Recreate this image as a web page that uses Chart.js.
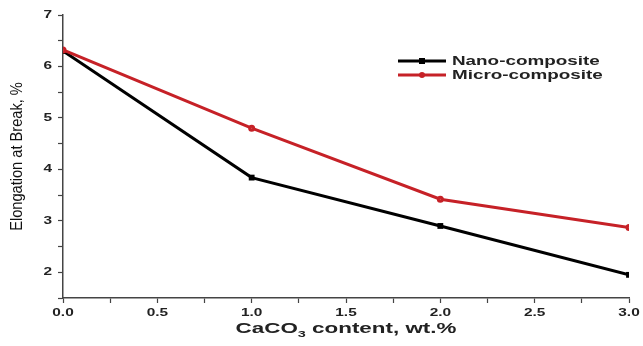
<!DOCTYPE html>
<html>
<head>
<meta charset="utf-8">
<script src="https://cdn.jsdelivr.net/npm/chart.js@4"></script>
<style>
  html, body { margin: 0; padding: 0; background: #fff; }
  #wrap { width: 643px; height: 346px; position: relative; }
</style>
</head>
<body>
<div id="wrap"><canvas id="chart"></canvas></div>
<script>
// CaCO3 content (wt.%)
const contents = [0, 1, 2, 3];
// Elongation at break (%)
const nanoValues = [6.3, 3.84, 2.9, 1.95];
const microValues = [6.32, 4.8, 3.42, 2.87];
const seriesNames = ["Nano-composite", "Micro-composite"];
const seriesColors = ["#000000", "#c62127"];

const xTitle = ["CaCO", "3", " content, wt.%"];
const yTitle = "Elongation at Break, %";

const axisColor = "#444";
const textColor = "#222";

function stretchText(ctx, text, x, y, sx, align) {
    ctx.save();
    ctx.translate(x, y);
    ctx.scale(sx, 1);
    ctx.textAlign = align;
    ctx.fillText(text, 0, 0);
    ctx.restore();
}

const textPlugin = {
    id: "textPlugin",
    afterDraw(chart) {
        const ctx = chart.ctx;
        const xs = chart.scales.x;
        const ys = chart.scales.y;
        ctx.save();
        ctx.fillStyle = textColor;

        // tick labels
        ctx.font = "bold 11px 'Liberation Sans', Arial, sans-serif";
        ctx.textBaseline = "middle";
        xs.ticks.forEach((t) => {
            if (Math.abs(t.value * 2 - Math.round(t.value * 2)) > 1e-6) return;
            stretchText(ctx, t.value.toFixed(1), xs.getPixelForValue(t.value), xs.top + 15, 1.4, "center");
        });
        ys.ticks.forEach((t) => {
            if (Math.abs(t.value - Math.round(t.value)) > 1e-6) return;
            if (t.value < 2) return;
            stretchText(ctx, String(t.value), ys.right - 11, ys.getPixelForValue(t.value), 1.4, "right");
        });

        // x title with subscript
        const sx = 1.6;
        ctx.font = "bold 14px 'Liberation Sans', Arial, sans-serif";
        const w1 = ctx.measureText(xTitle[0]).width;
        const w3 = ctx.measureText(xTitle[2]).width;
        ctx.font = "bold 9px 'Liberation Sans', Arial, sans-serif";
        const w2 = ctx.measureText(xTitle[1]).width;
        const total = (w1 + w2 + w3) * sx;
        let x0 = (chart.chartArea.left + chart.chartArea.right) / 2 - total / 2;
        const by = 333;
        ctx.textBaseline = "alphabetic";
        ctx.font = "bold 14px 'Liberation Sans', Arial, sans-serif";
        stretchText(ctx, xTitle[0], x0, by, sx, "left");
        ctx.font = "bold 9px 'Liberation Sans', Arial, sans-serif";
        stretchText(ctx, xTitle[1], x0 + w1 * sx, by + 4, sx, "left");
        ctx.font = "bold 14px 'Liberation Sans', Arial, sans-serif";
        stretchText(ctx, xTitle[2], x0 + (w1 + w2) * sx, by, sx, "left");

        // y title
        ctx.save();
        ctx.translate(22, (chart.chartArea.top + chart.chartArea.bottom) / 2);
        ctx.rotate(-Math.PI / 2);
        ctx.scale(0.86, 1);
        ctx.font = "17px 'Liberation Sans', Arial, sans-serif";
        ctx.textAlign = "center";
        ctx.textBaseline = "alphabetic";
        ctx.fillStyle = "#111";
        ctx.fillText(yTitle, 0, 0);
        ctx.restore();

        // legend
        const legendY = [61, 75];
        seriesNames.forEach((name, i) => {
            const y = legendY[i];
            ctx.strokeStyle = seriesColors[i];
            ctx.lineWidth = 3;
            ctx.beginPath();
            ctx.moveTo(398, y);
            ctx.lineTo(446, y);
            ctx.stroke();
            ctx.fillStyle = seriesColors[i];
            if (i === 0) {
                ctx.fillRect(419, y - 3, 6, 6);
            } else {
                ctx.beginPath();
                ctx.arc(422, y, 3, 0, Math.PI * 2);
                ctx.fill();
            }
            ctx.fillStyle = textColor;
            ctx.font = "bold 13px 'Liberation Sans', Arial, sans-serif";
            ctx.textBaseline = "middle";
            stretchText(ctx, name, 452, y, 1.45, "left");
        });
        ctx.restore();
    },
};

const toPoints = (vals) => contents.map((c, i) => ({ x: c, y: vals[i] }));

new Chart(document.getElementById("chart"), {
    type: "line",
    data: {
        datasets: [
            {
                label: seriesNames[0],
                data: toPoints(nanoValues),
                borderColor: seriesColors[0],
                backgroundColor: seriesColors[0],
                borderWidth: 3,
                pointStyle: "rect",
                pointRadius: 2,
                order: 1,
            },
            {
                label: seriesNames[1],
                data: toPoints(microValues),
                borderColor: seriesColors[1],
                backgroundColor: "#d9686c",
                borderWidth: 3,
                pointStyle: "circle",
                pointRadius: 2,
                order: 0,
            },
        ],
    },
    options: {
        responsive: true,
        maintainAspectRatio: false,
        animation: false,
        layout: { padding: { top: 15, right: 14, left: 0, bottom: 0 } },
        plugins: {
            legend: { display: false },
            tooltip: { enabled: false },
        },
        scales: {
            x: {
                type: "linear",
                min: 0,
                max: 3,
                ticks: { stepSize: 0.25, callback: () => "" },
                grid: { drawOnChartArea: false, drawTicks: true, tickLength: 5, tickColor: axisColor, tickWidth: 1.2 },
                border: { color: axisColor, width: 1.5 },
                afterFit: (s) => { s.height = 48; },
            },
            y: {
                min: 1.5,
                max: 7,
                ticks: { stepSize: 0.5, callback: () => "" },
                grid: { drawOnChartArea: false, drawTicks: true, tickLength: 5, tickColor: axisColor, tickWidth: 1.2 },
                border: { color: axisColor, width: 1.5 },
                afterFit: (s) => { s.width = 63; },
            },
        },
    },
    plugins: [textPlugin],
});
</script>
</body>
</html>
